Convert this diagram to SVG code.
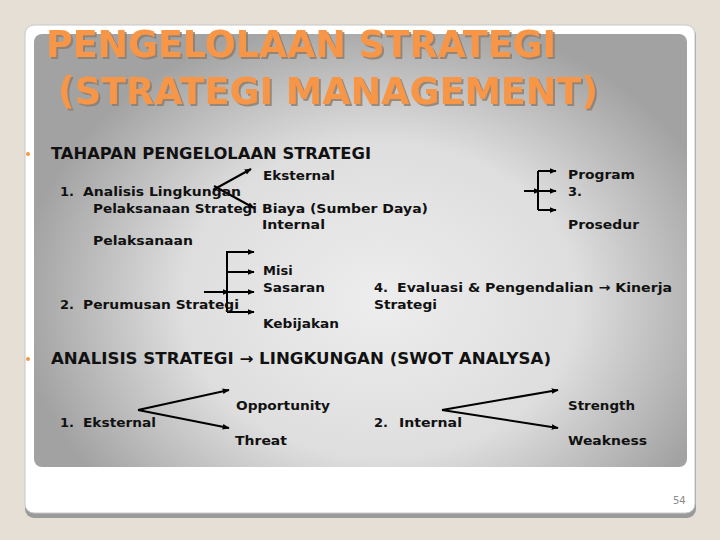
<svg xmlns="http://www.w3.org/2000/svg" width="720" height="540" viewBox="0 0 720 540">
<defs>
<radialGradient id="pg" cx="380" cy="300" r="360" gradientUnits="userSpaceOnUse" gradientTransform="translate(0,300) scale(1,0.8) translate(0,-300)">
<stop offset="0" stop-color="#ededed"/>
<stop offset="0.55" stop-color="#dedede"/>
<stop offset="1" stop-color="#a2a2a2"/>
</radialGradient>
<filter id="sh" x="-5%" y="-20%" width="110%" height="140%">
<feDropShadow dx="2" dy="2" stdDeviation="0.6" flood-color="#8a7a6a" flood-opacity="0.8"/>
</filter>
<marker id="ah" viewBox="0 0 10 10" refX="9" refY="5" markerWidth="7" markerHeight="7" markerUnits="userSpaceOnUse" orient="auto">
<path d="M0,1 L10,5 L0,9 Z" fill="#000"/>
</marker>
</defs>
<style>
.t{font-family:"DejaVu Sans",Verdana,sans-serif;font-weight:bold;font-size:13px;fill:#111}
.h{font-family:"DejaVu Sans",Verdana,sans-serif;font-weight:bold;font-size:15px;fill:#111}
.ti{font-family:"DejaVu Sans",Verdana,sans-serif;font-weight:bold;font-size:37px;fill:#f79646}
.c{stroke:#000;stroke-width:2;fill:none}
.ca{stroke:#000;stroke-width:2;fill:none;marker-end:url(#ah)}
</style>
<rect width="720" height="540" fill="#e5dfd5"/>
<rect x="25" y="27" width="671" height="491" rx="9" fill="#9a9a9a"/>
<rect x="25" y="25" width="670" height="488" rx="9" fill="#ffffff" stroke="#c8c8c8" stroke-width="1"/>
<rect x="34" y="34" width="653" height="433" rx="8" fill="url(#pg)"/>
<g id="title" filter="url(#sh)">
<text class="ti" x="46" y="57" textLength="510" lengthAdjust="spacingAndGlyphs">PENGELOLAAN STRATEGI</text>
<text class="ti" x="58" y="104" textLength="540" lengthAdjust="spacingAndGlyphs">(STRATEGI MANAGEMENT)</text>
</g>
<circle cx="28" cy="154" r="2" fill="#f79646"/>
<circle cx="28" cy="359" r="2" fill="#f79646"/>
<g id="connectors">
<line class="ca" x1="213" y1="190" x2="251" y2="169"/>
<line class="ca" x1="214" y1="186" x2="254" y2="208"/>
<line class="c" x1="538" y1="171" x2="538" y2="210"/>
<line class="ca" x1="538" y1="171" x2="556" y2="171"/>
<line class="ca" x1="538" y1="191" x2="556" y2="191"/>
<line class="ca" x1="538" y1="210" x2="556" y2="210"/>
<line class="ca" x1="524" y1="191" x2="540" y2="191"/>
<line class="c" x1="227" y1="251" x2="227" y2="312"/>
<line class="ca" x1="226" y1="252" x2="254" y2="252"/>
<line class="ca" x1="227" y1="272" x2="254" y2="272"/>
<line class="ca" x1="227" y1="292" x2="254" y2="292"/>
<line class="ca" x1="227" y1="312" x2="254" y2="312"/>
<line class="ca" x1="204" y1="292" x2="229" y2="292"/>
<line class="ca" x1="138" y1="410" x2="229" y2="390"/>
<line class="ca" x1="138" y1="410" x2="229" y2="428"/>
<line class="ca" x1="442" y1="410" x2="558" y2="390"/>
<line class="ca" x1="442" y1="410" x2="558" y2="428"/>
</g>
<g id="heading1"><text class="h" x="51" y="159" textLength="320" lengthAdjust="spacingAndGlyphs">TAHAPAN PENGELOLAAN STRATEGI</text></g>
<g id="n-analisis">
<text class="t" x="60" y="196">1.</text>
<text class="t" x="83" y="196" textLength="158" lengthAdjust="spacingAndGlyphs">Analisis Lingkungan</text>
<text class="t" x="93" y="213" textLength="164" lengthAdjust="spacingAndGlyphs">Pelaksanaan Strategi</text>
<text class="t" x="93" y="245" textLength="100" lengthAdjust="spacingAndGlyphs">Pelaksanaan</text>
</g>
<g id="n-eksternal"><text class="t" x="263" y="180" textLength="72" lengthAdjust="spacingAndGlyphs">Eksternal</text></g>
<g id="n-biaya"><text class="t" x="262" y="213" textLength="166" lengthAdjust="spacingAndGlyphs">Biaya (Sumber Daya)</text></g>
<g id="n-internal"><text class="t" x="262" y="229" textLength="63" lengthAdjust="spacingAndGlyphs">Internal</text></g>
<g id="n-program"><text class="t" x="568" y="179" textLength="67" lengthAdjust="spacingAndGlyphs">Program</text></g>
<g id="n-3"><text class="t" x="568" y="196">3.</text></g>
<g id="n-prosedur"><text class="t" x="568" y="229" textLength="71" lengthAdjust="spacingAndGlyphs">Prosedur</text></g>
<g id="n-misi"><text class="t" x="263" y="275">Misi</text></g>
<g id="n-sasaran"><text class="t" x="263" y="292" textLength="62" lengthAdjust="spacingAndGlyphs">Sasaran</text></g>
<g id="n-kebijakan"><text class="t" x="263" y="328" textLength="76" lengthAdjust="spacingAndGlyphs">Kebijakan</text></g>
<g id="n-perumusan">
<text class="t" x="60" y="309">2.</text>
<text class="t" x="83" y="309" textLength="156" lengthAdjust="spacingAndGlyphs">Perumusan Strategi</text>
</g>
<g id="n-evaluasi">
<text class="t" x="374" y="292">4.</text>
<text class="t" x="397" y="292" textLength="275" lengthAdjust="spacingAndGlyphs">Evaluasi &amp; Pengendalian → Kinerja</text>
<text class="t" x="374" y="309" textLength="63" lengthAdjust="spacingAndGlyphs">Strategi</text>
</g>
<g id="heading2"><text class="h" x="51" y="364" textLength="500" lengthAdjust="spacingAndGlyphs">ANALISIS STRATEGI → LINGKUNGAN (SWOT ANALYSA)</text></g>
<g id="n-eks2"><text class="t" x="60" y="427">1.</text><text class="t" x="83" y="427" textLength="73" lengthAdjust="spacingAndGlyphs">Eksternal</text></g>
<g id="n-opportunity"><text class="t" x="236" y="410" textLength="94" lengthAdjust="spacingAndGlyphs">Opportunity</text></g>
<g id="n-threat"><text class="t" x="235" y="445" textLength="52" lengthAdjust="spacingAndGlyphs">Threat</text></g>
<g id="n-int2"><text class="t" x="374" y="427">2.</text><text class="t" x="399" y="427" textLength="63" lengthAdjust="spacingAndGlyphs">Internal</text></g>
<g id="n-strength"><text class="t" x="568" y="410" textLength="67" lengthAdjust="spacingAndGlyphs">Strength</text></g>
<g id="n-weakness"><text class="t" x="568" y="445" textLength="79" lengthAdjust="spacingAndGlyphs">Weakness</text></g>
<text x="673" y="504" font-family="'DejaVu Sans',Verdana,sans-serif" font-size="10" fill="#8a8a8a">54</text>
</svg>
